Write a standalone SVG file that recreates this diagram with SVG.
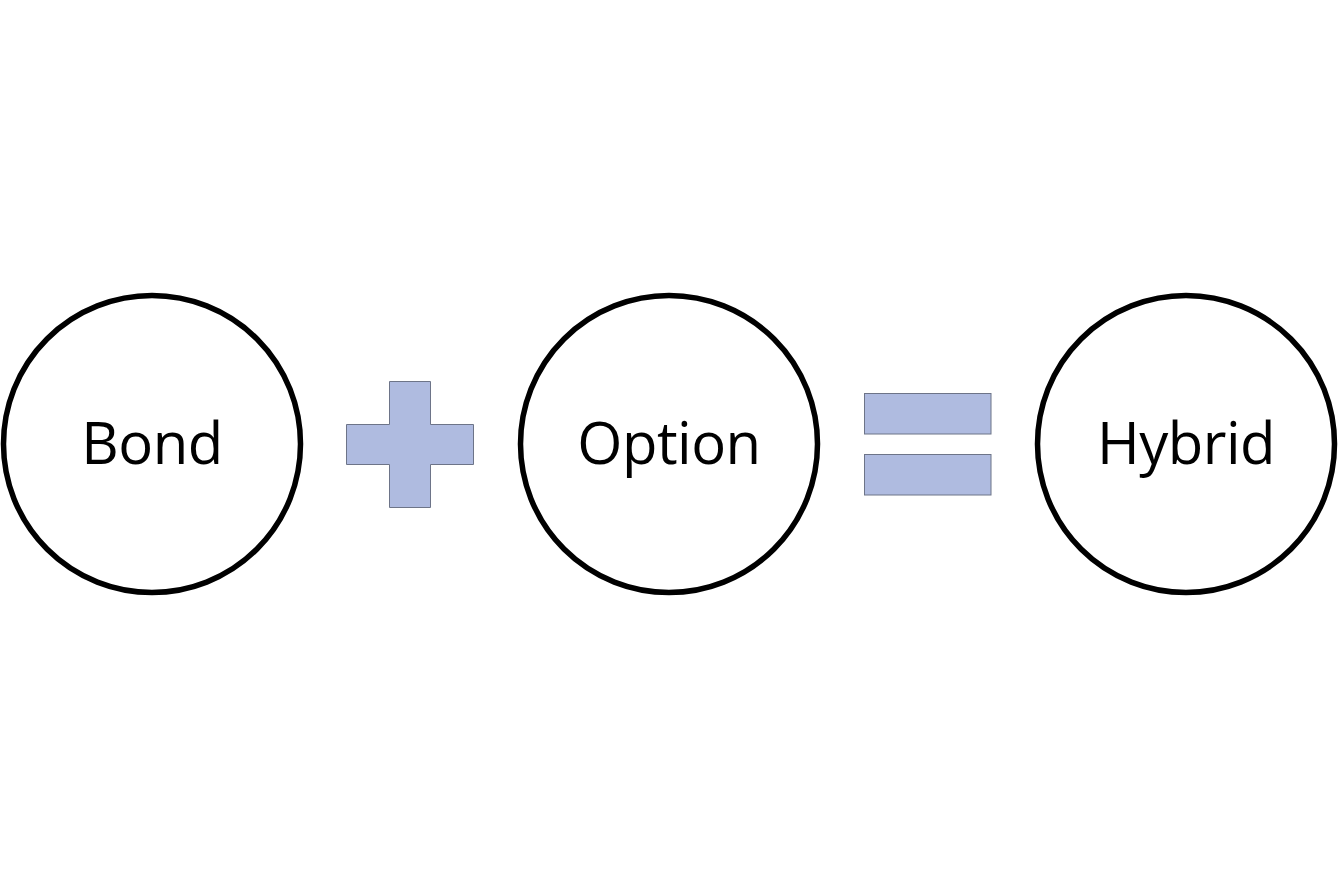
<svg xmlns="http://www.w3.org/2000/svg" width="1338" height="889" viewBox="0 0 1338 889">
<style>
.node{fill:#ffffff;stroke:#000000;stroke-width:5.5}
.lbl{font-family:"Open Sans","Noto Sans",sans-serif;font-size:58px;fill:#000000;text-anchor:middle;letter-spacing:-0.5px}
.op{fill:#afbbe0;stroke:#6d7488;stroke-width:1}
</style>
<rect width="1338" height="889" fill="#ffffff"/>
<g id="bond">
<circle class="node" cx="152" cy="444" r="148.5"/>
<text class="lbl" x="152" y="464">Bond</text>
</g>
<g id="plus">
<path class="op" d="M389.5,381.5 H430.5 V424.5 H473.5 V464.5 H430.5 V507.5 H389.5 V464.5 H346.5 V424.5 H389.5 Z"/>
</g>
<g id="option">
<circle class="node" cx="669" cy="444" r="148.5"/>
<text class="lbl" x="669" y="464">Option</text>
</g>
<g id="equals">
<rect class="op" x="864.5" y="393.5" width="126.5" height="40.5"/>
<rect class="op" x="864.5" y="454.5" width="126.5" height="40.5"/>
</g>
<g id="hybrid">
<circle class="node" cx="1186" cy="444" r="148.5"/>
<text class="lbl" x="1186" y="464">Hybrid</text>
</g>
<g id="connectors"></g>
</svg>
